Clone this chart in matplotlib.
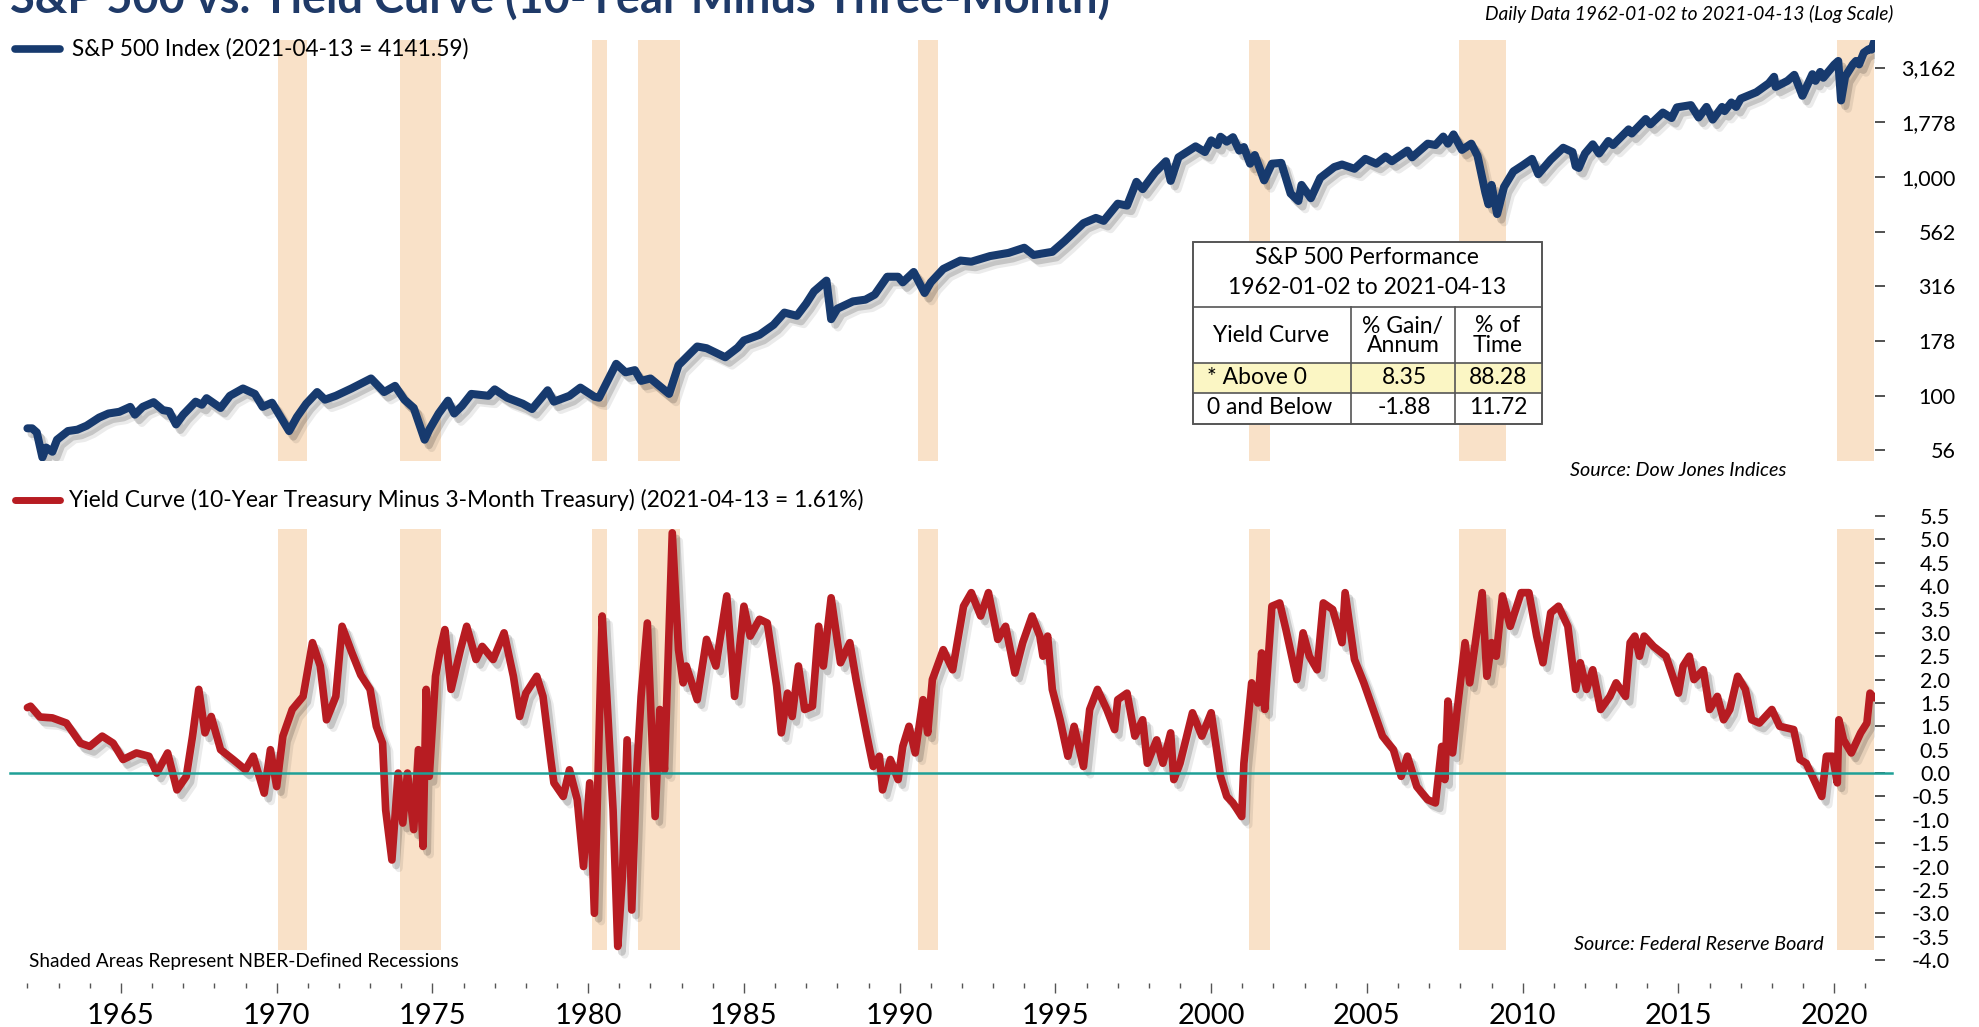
import numpy as np
import matplotlib
matplotlib.use("Agg")
import matplotlib.pyplot as plt
from matplotlib import patheffects as pe
from matplotlib.lines import Line2D
from matplotlib.patches import Rectangle
from matplotlib.ticker import FixedLocator, NullLocator

plt.rcParams["font.family"] = ["Lato", "DejaVu Sans"]
plt.rcParams["axes.unicode_minus"] = False

# S&P 500 index (approximate daily path)
spx_year = [1962.00, 1962.15, 1962.30, 1962.48, 1962.60, 1962.80, 1962.95, 1963.30, 1963.60, 1963.90,
            1964.30, 1964.60, 1964.95, 1965.30, 1965.45, 1965.70, 1966.05, 1966.35, 1966.55, 1966.77,
            1967.00, 1967.40, 1967.60, 1967.75, 1968.20, 1968.50, 1968.92, 1969.30, 1969.55, 1969.85,
            1970.40, 1970.65, 1970.95, 1971.30, 1971.55, 1971.90, 1972.40, 1973.03, 1973.45, 1973.80,
            1974.10, 1974.40, 1974.75, 1974.90, 1975.20, 1975.50, 1975.70, 1975.95, 1976.25, 1976.80,
            1977.00, 1977.40, 1977.90, 1978.20, 1978.70, 1978.90, 1979.40, 1979.75, 1980.20, 1980.35,
            1980.90, 1981.20, 1981.50, 1981.70, 1982.00, 1982.60, 1982.90, 1983.50, 1983.80, 1984.40,
            1984.80, 1985.00, 1985.50, 1985.95, 1986.30, 1986.70, 1987.00, 1987.25, 1987.65, 1987.80,
            1988.00, 1988.50, 1988.90, 1989.20, 1989.60, 1989.95, 1990.10, 1990.45, 1990.80, 1991.00,
            1991.40, 1991.95, 1992.30, 1992.90, 1993.50, 1994.00, 1994.30, 1994.90, 1995.30, 1995.90,
            1996.30, 1996.55, 1997.00, 1997.30, 1997.60, 1997.80, 1998.20, 1998.55, 1998.70, 1998.95,
            1999.50, 1999.80, 2000.00, 2000.20, 2000.30, 2000.50, 2000.70, 2000.90, 2001.05, 2001.25,
            2001.40, 2001.70, 2001.95, 2002.25, 2002.55, 2002.80, 2002.90, 2003.20, 2003.50, 2003.95,
            2004.20, 2004.60, 2004.95, 2005.30, 2005.60, 2005.80, 2006.30, 2006.45, 2006.95, 2007.20,
            2007.45, 2007.60, 2007.78, 2008.05, 2008.35, 2008.55, 2008.80, 2008.90, 2009.00, 2009.18,
            2009.40, 2009.70, 2010.00, 2010.30, 2010.50, 2010.90, 2011.30, 2011.60, 2011.70, 2011.80,
            2012.00, 2012.25, 2012.45, 2012.75, 2012.90, 2013.40, 2013.50, 2013.95, 2014.10, 2014.50,
            2014.78, 2014.95, 2015.40, 2015.65, 2015.90, 2016.10, 2016.40, 2016.48, 2016.70, 2016.85,
            2017.00, 2017.50, 2017.90, 2018.07, 2018.12, 2018.50, 2018.72, 2018.98, 2019.30, 2019.40,
            2019.55, 2019.65, 2020.00, 2020.13, 2020.22, 2020.35, 2020.60, 2020.70, 2020.80, 2020.95,
            2021.10, 2021.20, 2021.28]
spx_value = [71.0, 71.0, 68.0, 52.3, 58.0, 55.5, 63.0, 69.0, 70.0, 73.0,
             79.5, 83.0, 84.5, 89.0, 82.0, 89.0, 93.5, 86.0, 85.0, 74.0,
             82.0, 94.0, 91.0, 97.5, 88.0, 100.0, 108.0, 102.0, 89.0, 93.0,
             69.0, 80.0, 92.0, 104.0, 96.0, 100.0, 108.0, 120.0, 104.0, 111.0,
             96.0, 88.0, 63.0, 70.0, 83.0, 95.0, 83.0, 90.0, 102.0, 100.0,
             107.0, 98.0, 92.0, 87.0, 106.0, 94.0, 100.0, 109.0, 99.0, 98.0,
             140.0, 128.0, 131.0, 117.0, 120.0, 102.0, 138.0, 168.0, 165.0, 150.0,
             166.0, 179.0, 190.0, 211.0, 240.0, 232.0, 264.0, 300.0, 336.0, 224.0,
             250.0, 270.0, 275.0, 290.0, 350.0, 350.0, 330.0, 368.0, 295.0, 330.0,
             380.0, 415.0, 410.0, 435.0, 450.0, 475.0, 440.0, 455.0, 510.0, 615.0,
             650.0, 630.0, 755.0, 740.0, 950.0, 880.0, 1050.0, 1180.0, 960.0, 1230.0,
             1380.0, 1300.0, 1470.0, 1400.0, 1527.0, 1450.0, 1520.0, 1320.0, 1370.0, 1150.0,
             1260.0, 965.0, 1150.0, 1160.0, 840.0, 777.0, 920.0, 800.0, 990.0, 1110.0,
             1140.0, 1090.0, 1210.0, 1150.0, 1240.0, 1180.0, 1320.0, 1230.0, 1420.0, 1400.0,
             1530.0, 1420.0, 1565.0, 1330.0, 1420.0, 1250.0, 850.0, 750.0, 920.0, 677.0,
             900.0, 1060.0, 1130.0, 1210.0, 1030.0, 1200.0, 1360.0, 1300.0, 1120.0, 1100.0,
             1280.0, 1410.0, 1280.0, 1460.0, 1400.0, 1650.0, 1580.0, 1840.0, 1740.0, 1970.0,
             1860.0, 2080.0, 2130.0, 1870.0, 2090.0, 1830.0, 2090.0, 2000.0, 2190.0, 2090.0,
             2280.0, 2440.0, 2680.0, 2870.0, 2580.0, 2750.0, 2930.0, 2350.0, 2950.0, 2750.0,
             3020.0, 2840.0, 3260.0, 3390.0, 2237.0, 2870.0, 3270.0, 3390.0, 3270.0, 3700.0,
             3830.0, 3820.0, 4141.59]

# Yield curve, 10-year minus 3-month (%)
yc_year = [1962.00, 1962.10, 1962.40, 1962.80, 1963.25, 1963.70, 1964.00, 1964.40, 1964.75, 1965.07,
           1965.50, 1965.90, 1966.15, 1966.50, 1966.80, 1967.10, 1967.30, 1967.50, 1967.70, 1967.90,
           1968.20, 1968.60, 1969.00, 1969.25, 1969.60, 1969.80, 1970.00, 1970.20, 1970.50, 1970.85,
           1971.15, 1971.40, 1971.60, 1971.90, 1972.10, 1972.40, 1972.70, 1973.00, 1973.20, 1973.40,
           1973.50, 1973.70, 1973.90, 1974.05, 1974.20, 1974.40, 1974.55, 1974.70, 1974.80, 1974.90,
           1975.10, 1975.25, 1975.40, 1975.60, 1975.90, 1976.10, 1976.40, 1976.60, 1976.95, 1977.30,
           1977.60, 1977.80, 1978.00, 1978.35, 1978.55, 1978.80, 1978.90, 1979.20, 1979.40, 1979.65,
           1979.85, 1980.05, 1980.20, 1980.45, 1980.60, 1980.80, 1980.95, 1981.10, 1981.25, 1981.40,
           1981.55, 1981.70, 1981.90, 1982.15, 1982.30, 1982.45, 1982.70, 1982.90, 1983.05, 1983.15,
           1983.50, 1983.80, 1984.10, 1984.45, 1984.70, 1985.00, 1985.20, 1985.50, 1985.75, 1986.05,
           1986.20, 1986.40, 1986.55, 1986.75, 1986.95, 1987.20, 1987.40, 1987.55, 1987.80, 1988.10,
           1988.40, 1988.60, 1988.95, 1989.15, 1989.35, 1989.45, 1989.70, 1989.95, 1990.10, 1990.30,
           1990.50, 1990.75, 1990.90, 1991.05, 1991.40, 1991.70, 1992.05, 1992.30, 1992.60, 1992.85,
           1993.15, 1993.40, 1993.70, 1993.95, 1994.25, 1994.50, 1994.60, 1994.75, 1994.90, 1995.15,
           1995.40, 1995.60, 1995.90, 1996.10, 1996.35, 1996.65, 1996.90, 1997.00, 1997.30, 1997.55,
           1997.80, 1997.95, 1998.25, 1998.45, 1998.70, 1998.80, 1999.00, 1999.40, 1999.70, 2000.00,
           2000.30, 2000.50, 2000.70, 2000.98, 2001.05, 2001.30, 2001.50, 2001.62, 2001.72, 2001.95,
           2002.20, 2002.40, 2002.75, 2002.95, 2003.15, 2003.40, 2003.60, 2003.90, 2004.20, 2004.30,
           2004.60, 2004.90, 2005.20, 2005.50, 2005.85, 2006.10, 2006.30, 2006.60, 2006.95, 2007.20,
           2007.40, 2007.50, 2007.60, 2007.75, 2007.90, 2008.15, 2008.30, 2008.45, 2008.70, 2008.85,
           2009.00, 2009.15, 2009.35, 2009.60, 2009.95, 2010.20, 2010.45, 2010.65, 2010.90, 2011.15,
           2011.45, 2011.70, 2011.85, 2012.05, 2012.25, 2012.50, 2012.80, 2013.00, 2013.30, 2013.45,
           2013.60, 2013.75, 2013.90, 2014.20, 2014.60, 2015.00, 2015.15, 2015.35, 2015.50, 2015.80,
           2016.00, 2016.25, 2016.45, 2016.65, 2016.90, 2017.15, 2017.35, 2017.60, 2018.00, 2018.25,
           2018.70, 2018.90, 2019.10, 2019.30, 2019.60, 2019.75, 2019.95, 2020.10, 2020.15, 2020.30,
           2020.55, 2020.85, 2021.05, 2021.15, 2021.28]
yc_value = [1.40, 1.43, 1.20, 1.18, 1.07, 0.64, 0.57, 0.79, 0.64, 0.29,
            0.43, 0.36, 0.00, 0.43, -0.36, -0.07, 0.79, 1.79, 0.86, 1.21,
            0.50, 0.29, 0.07, 0.36, -0.43, 0.50, -0.29, 0.79, 1.36, 1.64,
            2.79, 2.29, 1.14, 1.64, 3.14, 2.60, 2.10, 1.79, 1.00, 0.64,
            -0.79, -1.86, 0.00, -1.07, 0.00, -1.21, 0.50, -1.57, 1.79, -0.07,
            2.07, 2.64, 3.07, 1.79, 2.64, 3.14, 2.43, 2.71, 2.43, 3.00,
            2.07, 1.21, 1.71, 2.07, 1.64, 0.29, -0.21, -0.50, 0.07, -0.57,
            -2.00, -0.21, -3.00, 3.36, 1.64, -0.79, -3.71, -2.21, 0.71, -2.93,
            -0.07, 1.64, 3.21, -0.93, 1.36, 0.07, 5.14, 2.64, 1.93, 2.29,
            1.57, 2.86, 2.29, 3.79, 1.64, 3.57, 2.93, 3.29, 3.21, 1.86,
            0.86, 1.71, 1.21, 2.29, 1.36, 1.43, 3.14, 2.29, 3.75, 2.36,
            2.79, 2.00, 0.79, 0.14, 0.36, -0.36, 0.29, -0.14, 0.57, 1.00,
            0.43, 1.57, 0.86, 2.00, 2.64, 2.21, 3.57, 3.86, 3.36, 3.86,
            2.86, 3.14, 2.14, 2.79, 3.36, 2.93, 2.50, 2.93, 1.79, 1.14,
            0.36, 1.00, 0.14, 1.36, 1.79, 1.36, 0.93, 1.57, 1.71, 0.79,
            1.14, 0.21, 0.71, 0.21, 0.86, -0.14, 0.21, 1.29, 0.79, 1.29,
            -0.07, -0.50, -0.64, -0.93, 0.21, 1.93, 1.50, 2.57, 1.36, 3.57,
            3.64, 3.07, 2.00, 3.00, 2.50, 2.21, 3.64, 3.50, 2.79, 3.86,
            2.43, 1.93, 1.36, 0.79, 0.50, -0.07, 0.36, -0.29, -0.57, -0.64,
            0.57, -0.14, 1.54, 0.43, 1.36, 2.79, 1.93, 2.64, 3.86, 2.07,
            2.79, 2.50, 3.79, 3.14, 3.86, 3.86, 2.93, 2.36, 3.43, 3.57,
            3.14, 1.79, 2.36, 1.79, 2.21, 1.36, 1.64, 1.93, 1.64, 2.79,
            2.93, 2.50, 2.93, 2.71, 2.50, 1.71, 2.29, 2.50, 2.00, 2.21,
            1.36, 1.64, 1.14, 1.36, 2.07, 1.79, 1.14, 1.07, 1.36, 1.00,
            0.93, 0.29, 0.21, -0.07, -0.50, 0.36, 0.36, -0.21, 1.14, 0.71,
            0.43, 0.86, 1.07, 1.71, 1.61]

# NBER recessions (start, end in decimal years)
rec_start = [1970.04, 1973.96, 1980.12, 1981.60, 1990.58, 2001.20, 2007.95, 2020.09]
rec_end = [1970.97, 1975.27, 1980.60, 1982.95, 1991.23, 2001.90, 2009.46, 2021.28]

spx_ticks = [10 ** (1.75 + 0.25 * k) for k in range(8)]
yc_ticks = list(np.arange(-4.0, 5.51, 0.5))
year_ticks = list(range(1965, 2021, 5))
year_minor = list(range(1962, 2022))

# table
tbl_title = ["S&P 500 Performance", "1962-01-02 to 2021-04-13"]
tbl_rows = ["* Above 0", "0 and Below"]
tbl_gain = ["8.35", "-1.88"]
tbl_time = ["88.28", "11.72"]

NAVY = "#173a6e"
RED = "#b71c22"
PEACH = "#f9e1c8"
TEAL = "#1fa097"

W, H = 1979, 1027
fig = plt.figure(figsize=(W / 100, H / 100), dpi=100)


def fx(px):
    return px / W


def fy(py):
    return 1 - py / H


XL = (1961.44, 2021.31)
shadow = [pe.SimpleLineShadow(offset=(5, -6), shadow_color="k", alpha=0.08),
          pe.SimpleLineShadow(offset=(3, -4), shadow_color="k", alpha=0.16),
          pe.Normal()]

# ---- top panel: S&P 500 (log)
ax1 = fig.add_axes([fx(10), fy(461), fx(1875) - fx(10), (461 - 40) / H])
for s, e in zip(rec_start, rec_end):
    ax1.axvspan(s, e, color=PEACH, lw=0, zorder=0)
ax1.plot(spx_year, spx_value, color=NAVY, lw=5.8, solid_joinstyle="round",
         solid_capstyle="round", path_effects=shadow, zorder=3)
ax1.set_yscale("log")
ax1.set_xlim(*XL)
ax1.set_ylim(10 ** 1.702, 10 ** 3.626)
ax1.yaxis.tick_right()
ax1.yaxis.set_major_locator(FixedLocator(spx_ticks))
ax1.yaxis.set_minor_locator(NullLocator())
ax1.set_yticklabels([f"{round(v):,}" for v in spx_ticks])
ax1.tick_params(axis="y", length=7, width=1.2, color="#333333", pad=51, labelsize=15.5)
for t in ax1.get_yticklabels():
    t.set_ha("right")
ax1.xaxis.set_visible(False)
for sp in ax1.spines.values():
    sp.set_visible(False)

# ---- bottom panel: yield curve
ax2 = fig.add_axes([fx(10), fy(960), fx(1875) - fx(10), (960 - 516) / H])
for s, e in zip(rec_start, rec_end):
    ax2.axvspan(s, e, ymin=10 / 444, ymax=431 / 444, color=PEACH, lw=0, zorder=0)
ax2.plot(yc_year, yc_value, color=RED, lw=5.5, solid_joinstyle="round",
         solid_capstyle="round", path_effects=shadow, zorder=3)
ax2.plot([XL[0], 2021.85], [0, 0], color=TEAL, lw=1.8, clip_on=False, zorder=4)
ax2.set_xlim(*XL)
ax2.set_ylim(-4.0, 5.5)
ax2.yaxis.tick_right()
ax2.set_yticks(yc_ticks)
ax2.set_yticklabels([f"{v:.1f}" for v in yc_ticks])
ax2.tick_params(axis="y", length=7, width=1.2, color="#333333", pad=47, labelsize=15.5)
for t in ax2.get_yticklabels():
    t.set_ha("right")
ax2.xaxis.set_major_locator(FixedLocator(year_ticks))
ax2.xaxis.set_minor_locator(FixedLocator(year_minor))
ax2.set_xticklabels([str(y) for y in year_ticks])
ax2.tick_params(axis="x", which="major", length=7.2, width=1, color="#555555",
                pad=7, labelsize=21)
ax2.tick_params(axis="x", which="minor", length=3.6, width=1, color="#555555")
for t in ax2.get_xticklabels():
    t.set_fontweight("bold")
for sp in ax2.spines.values():
    sp.set_visible(False)
ax2.spines["bottom"].set_position(("outward", 16.6))

# ---- titles and labels
fig.text(fx(10), fy(13), "S&P 500 vs. Yield Curve (10-Year Minus Three-Month)",
         fontsize=32.5, fontweight="bold", color="#1f3a68", va="baseline")
fig.text(fx(1893), fy(14), "Daily Data 1962-01-02 to 2021-04-13 (Log Scale)",
         ha="right", va="center", style="italic", fontsize=13.8)

fig.add_artist(Line2D([fx(15), fx(60)], [fy(49), fy(49)], lw=5.5, color=NAVY,
                      solid_capstyle="round"))
fig.text(fx(72), fy(49), "S&P 500 Index (2021-04-13 = 4141.59)", va="center", fontsize=16.3)
fig.add_artist(Line2D([fx(15), fx(60)], [fy(500), fy(500)], lw=5, color=RED,
                      solid_capstyle="round"))
fig.text(fx(69), fy(500),
         "Yield Curve (10-Year Treasury Minus 3-Month Treasury) (2021-04-13 = 1.61%)",
         va="center", fontsize=16.4)

fig.text(fx(1786), fy(471), "Source: Dow Jones Indices", ha="right", va="center",
         style="italic", fontsize=14.2)
fig.text(fx(1824), fy(945), "Source: Federal Reserve Board", ha="right", va="center",
         style="italic", fontsize=14.2)
fig.text(fx(29), fy(962), "Shaded Areas Represent NBER-Defined Recessions",
         va="center", fontsize=13.7)

# ---- performance table
tx0, tx1, tx2, tx3 = 1193, 1351, 1455, 1542
ty0, ty1, ty2, ty3, ty4 = 242, 307, 363, 393, 424
fig.add_artist(Rectangle((fx(tx0), fy(ty4)), fx(tx3) - fx(tx0), (ty4 - ty0) / H,
                         transform=fig.transFigure, facecolor="white",
                         edgecolor="#555555", lw=1.2, zorder=5))
fig.add_artist(Rectangle((fx(tx0), fy(ty3)), fx(tx3) - fx(tx0), (ty3 - ty2) / H,
                         transform=fig.transFigure, facecolor="#fbf6c4",
                         edgecolor="none", zorder=5))
for yy in [ty1, ty2, ty3]:
    fig.add_artist(Line2D([fx(tx0), fx(tx3)], [fy(yy), fy(yy)], color="#555555",
                          lw=1.2, zorder=6))
for xx in [tx1, tx2]:
    fig.add_artist(Line2D([fx(xx), fx(xx)], [fy(ty1), fy(ty4)], color="#555555",
                          lw=1.2, zorder=6))
fig.add_artist(Rectangle((fx(tx0), fy(ty4)), fx(tx3) - fx(tx0), (ty4 - ty0) / H,
                         transform=fig.transFigure, facecolor="none",
                         edgecolor="#555555", lw=1.2, zorder=6))

tkw = dict(fontsize=16.5, va="center", zorder=7)
fig.text(fx(1367), fy(258), tbl_title[0], ha="center", **tkw)
fig.text(fx(1367), fy(288), tbl_title[1], ha="center", **tkw)
fig.text(fx(1271), fy(335), "Yield Curve", ha="center", **tkw)
fig.text(fx(1403), fy(326), "% Gain/", ha="center", **tkw)
fig.text(fx(1403), fy(346), "Annum", ha="center", **tkw)
fig.text(fx(1498), fy(326), "% of", ha="center", **tkw)
fig.text(fx(1498), fy(346), "Time", ha="center", **tkw)
for i, ry in enumerate([378, 408]):
    fig.text(fx(1207), fy(ry), tbl_rows[i], ha="left", **tkw)
    fig.text(fx(1404), fy(ry), tbl_gain[i], ha="center", **tkw)
    fig.text(fx(1498), fy(ry), tbl_time[i], ha="center", **tkw)

fig.savefig("out.png", dpi=100, facecolor="white")
